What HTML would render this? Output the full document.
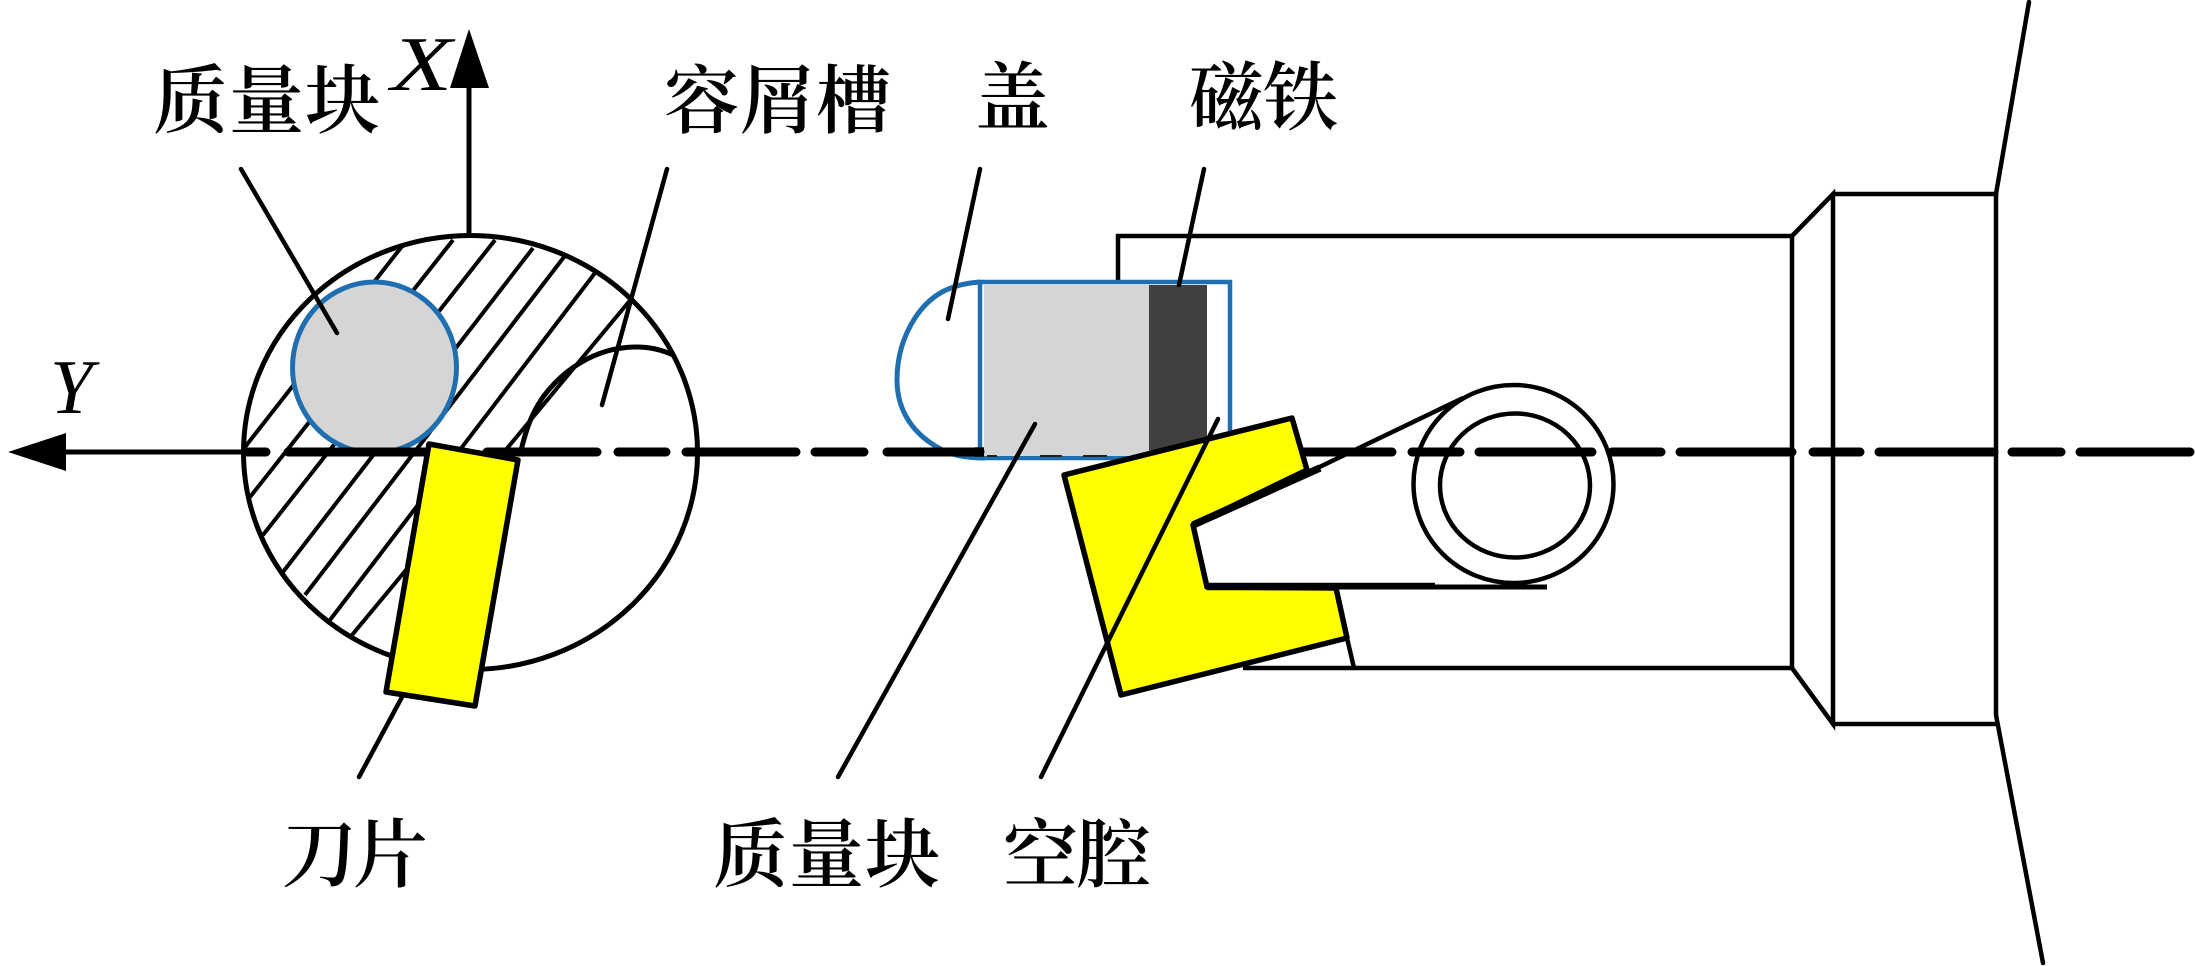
<!DOCTYPE html>
<html><head><meta charset="utf-8">
<style>
html,body{margin:0;padding:0;background:#fff;width:2195px;height:966px;overflow:hidden}
svg{display:block}
.cn{font-family:"Liberation Serif","Noto Serif CJK SC",serif;font-size:75px;font-weight:600;fill:#000}
.it{font-family:"Liberation Serif",serif;font-style:italic;font-size:77px;fill:#000}
</style></head><body>
<svg width="2195" height="966" viewBox="0 0 2195 966" xmlns="http://www.w3.org/2000/svg">
<rect width="2195" height="966" fill="#fff"/>
<!-- hatch -->
<g stroke="#000" stroke-width="4" fill="none">
<path d="M403 245L245 447M453 240L250 497M495 240L263 535M533 248L283 572M564 257L305 595M595 273L330 620M632 298L352 635"/>
</g>
<!-- big circle -->
<ellipse cx="470.5" cy="452.5" rx="227" ry="217" fill="none" stroke="#000" stroke-width="5"/>
<!-- slot -->
<path d="M673 355C660 349 648 347 637 347C618 347 598 352 580 363C565 372 552 385 543 397C534 410 527 424 520 455" fill="none" stroke="#000" stroke-width="5"/>
<!-- mass circle -->
<ellipse cx="374.5" cy="367.5" rx="82" ry="85.5" fill="#d5d5d5" stroke="#1f6fb0" stroke-width="5"/>
<!-- right body -->
<g fill="none" stroke="#000" stroke-width="4.5">
<path d="M1118 281V236H1792V668H1243"/>
<path d="M1792 236L1833 194V724L1792 668"/>
<path d="M1833 194H1996V715"/>
<path d="M1833 724H1996"/>
<path d="M1996 194L2029 2M1996 715L2043 963" stroke-linecap="round"/>
<ellipse cx="1513.5" cy="484" rx="100" ry="99"/>
<ellipse cx="1515" cy="485.5" rx="75" ry="72"/>
<path d="M1307 473L1463 398"/>
<path d="M1207 587H1547" stroke-width="5"/>
<path d="M1207 586H1435" stroke-width="6.5"/>
<path d="M1347 638L1354 668"/>
</g>
<!-- cap -->
<path d="M980 282C950 284 930 295 915 318C902 338 897 360 897 380C897 405 908 430 937 447C950 455 965 458 985 458" fill="none" stroke="#1f6fb0" stroke-width="5"/>
<rect x="980" y="282" width="250" height="176" fill="#fff" stroke="#1f6fb0" stroke-width="4.5"/>
<rect x="984" y="285" width="165" height="170" fill="#d5d5d5"/>
<rect x="1149" y="285" width="58" height="170" fill="#404040"/>
<path d="M987 456H997M1040 456H1062M1083 456H1107" stroke="#222" stroke-width="2" fill="none"/>
<!-- axis dashes -->
<g stroke="#000" stroke-width="9" stroke-linecap="round" fill="none">
<path d="M247 452H266M288 452H426M487 452H597M618 452H666M686 452H796M815 452H864M887 452H980M1295 452H1392M1412 452H1460M1479 452H1592M1612 452H1661M1680 452H1792M1813 452H1860M1879 452H1994M2012 452H2061M2080 452H2190"/>
</g>
<path d="M975 452H984" stroke="#000" stroke-width="9.5" fill="none"/>
<!-- yellow parts -->
<polygon points="429,444 518,460 475,706 386,692" fill="#ffff00" stroke="#000" stroke-width="5.5" stroke-linejoin="round"/>
<polygon points="1064,475 1292,418 1307,470 1193,525 1207,587 1336,588 1347,638 1121,695" fill="#ffff00" stroke="#000" stroke-width="5.5" stroke-linejoin="round"/>
<path d="M1193 525L1320 468" stroke="#000" stroke-width="7.5" fill="none"/>
<path d="M1207 587H1336" stroke="#000" stroke-width="6.5" fill="none"/>
<!-- axes -->
<g stroke="#000" stroke-width="5" fill="none">
<path d="M66 452H245"/>
<path d="M469 88V235"/>
</g>
<polygon points="8,452 66,433 66,471" fill="#000"/>
<polygon points="469,29 450,88 489,88" fill="#000"/>
<!-- leaders -->
<g stroke="#000" stroke-width="4.5" stroke-linecap="round" fill="none">
<path d="M241 169L337 333"/>
<path d="M667 169L602 405"/>
<path d="M980 169L948 319"/>
<path d="M1204 169L1179 285"/>
<path d="M1035 424L838 777"/>
<path d="M1218 419L1041 777"/>
<path d="M402 697L359 777"/>
</g>
<!-- labels -->
<text class="cn" x="153" y="127" letter-spacing="1">质量块</text>
<text class="cn" x="664" y="127" letter-spacing="1">容屑槽</text>
<text class="cn" x="975" y="124">盖</text>
<text class="cn" x="1189" y="124" letter-spacing="-1">磁铁</text>
<text class="cn" x="282" y="881" letter-spacing="-4">刀片</text>
<text class="cn" x="713" y="881" letter-spacing="1">质量块</text>
<text class="cn" x="1003" y="881" letter-spacing="-2">空腔</text>
<text class="it" transform="translate(391 90) scale(1.3 1)" x="0" y="0">X</text>
<text class="it" x="50" y="413">Y</text>
</svg>
</body></html>
